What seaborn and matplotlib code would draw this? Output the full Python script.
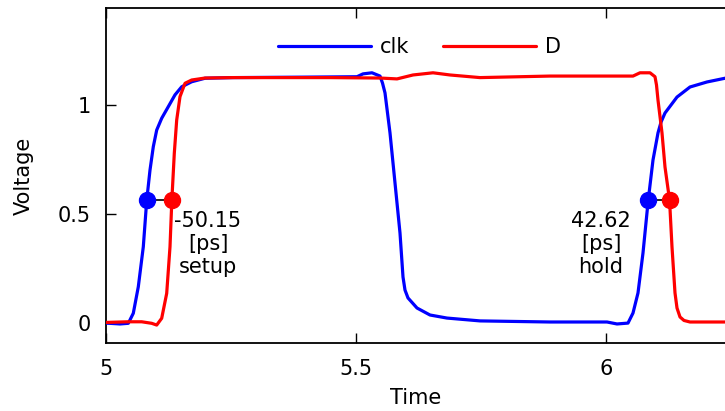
import matplotlib
matplotlib.use("Agg")
import matplotlib.pyplot as plt
import seaborn as sns
import pandas as pd

# ---- data (time in ns, voltage in V) ----
clk_t = [5.000, 5.028, 5.0446, 5.0546, 5.0646, 5.0746, 5.0815, 5.088, 5.0946, 5.1014,
         5.1114, 5.1246, 5.138, 5.1514, 5.1714, 5.198, 5.254, 5.388, 5.502, 5.514,
         5.532, 5.548, 5.553, 5.558, 5.568, 5.578, 5.588, 5.594, 5.598, 5.604, 5.622,
         5.648, 5.682, 5.748, 5.888, 6.002, 6.022, 6.044, 6.054, 6.064, 6.074, 6.0845,
         6.094, 6.104, 6.110, 6.118, 6.142, 6.168, 6.202, 6.240]
clk_v = [0.001, -0.003, 0.000, 0.046, 0.167, 0.350, 0.564, 0.701, 0.808, 0.884,
         0.938, 0.991, 1.045, 1.082, 1.105, 1.121, 1.124, 1.126, 1.128, 1.141,
         1.146, 1.131, 1.099, 1.054, 0.871, 0.642, 0.413, 0.212, 0.152, 0.116, 0.070,
         0.038, 0.024, 0.011, 0.006, 0.006, -0.003, 0.001, 0.047, 0.139, 0.322, 0.564,
         0.747, 0.871, 0.920, 0.962, 1.035, 1.081, 1.104, 1.122]

d_t = [5.000, 5.044, 5.0714, 5.0914, 5.1014, 5.1114, 5.1214, 5.128, 5.1317, 5.1366,
       5.1414, 5.148, 5.158, 5.1714, 5.198, 5.254, 5.448, 5.548, 5.582, 5.614, 5.654,
       5.688, 5.748, 5.888, 6.054, 6.068, 6.088, 6.098, 6.101, 6.104, 6.112, 6.118,
       6.1271, 6.132, 6.138, 6.142, 6.148, 6.156, 6.168, 6.240]
d_v = [0.004, 0.007, 0.007, 0.000, -0.008, 0.023, 0.137, 0.350, 0.564, 0.778,
       0.930, 1.037, 1.098, 1.113, 1.122, 1.124, 1.124, 1.122, 1.118, 1.136, 1.146,
       1.136, 1.124, 1.131, 1.131, 1.146, 1.146, 1.128, 1.090, 1.021, 0.871, 0.715,
       0.564, 0.349, 0.139, 0.070, 0.029, 0.013, 0.006, 0.006]

# measurement markers
setup_x = [5.0815, 5.1317]
hold_x = [6.0845, 6.1271]
mark_v = 0.564
setup_label = "-50.15\n[ps]\nsetup"
hold_label = "42.62\n[ps]\nhold"

x_ticks = [5, 5.5, 6]
x_tick_labels = ["5", "5.5", "6"]
y_ticks = [0, 0.5, 1]
y_tick_labels = ["0", "0.5", "1"]

# ---- style ----
sns.set_theme(style="ticks")
plt.rcParams["font.family"] = ["DejaVu Sans"]
plt.rcParams["font.size"] = 15
plt.rcParams["text.color"] = "black"
plt.rcParams["axes.labelcolor"] = "black"

fig = plt.figure(figsize=(7.25, 4.11), dpi=100)
ax = fig.add_axes([106 / 725, 1 - 342.7 / 411, 1 - 106 / 725, (342.7 - 8.3) / 411])

clk_df = pd.DataFrame({"Time": clk_t, "Voltage": clk_v})
d_df = pd.DataFrame({"Time": d_t, "Voltage": d_v})

sns.lineplot(data=clk_df, x="Time", y="Voltage", ax=ax, color="#0000ff", lw=2.3,
             estimator=None, sort=False, label="clk", zorder=3)
sns.lineplot(data=d_df, x="Time", y="Voltage", ax=ax, color="#ff0000", lw=2.3,
             estimator=None, sort=False, label="D", zorder=3)
for ln in ax.get_lines():
    ln.set_solid_joinstyle("round")

for xs in (setup_x, hold_x):
    ax.plot(xs, [mark_v, mark_v], color="black", lw=1.2, zorder=4)
    ax.plot([xs[0]], [mark_v], "o", color="#0000ff", ms=11.5, zorder=5)
    ax.plot([xs[1]], [mark_v], "o", color="#ff0000", ms=11.5, zorder=5)

ax.text(5.204, 0.363, setup_label, ha="center", va="center", fontsize=15, color="black")
ax.text(5.990, 0.363, hold_label, ha="center", va="center", fontsize=15, color="black")

ax.set_xlim(5.0, 5.0 + 619 / 500)
ax.set_ylim(-0.0887, 1.441)
ax.set_xticks(x_ticks)
ax.set_xticklabels(x_tick_labels)
ax.set_yticks(y_ticks)
ax.set_yticklabels(y_tick_labels)
ax.tick_params(direction="in", top=True, right=False, length=7, width=1,
               labelsize=15, colors="black")
ax.tick_params(axis="x", pad=12)
ax.tick_params(axis="y", pad=11)
ax.spines["right"].set_visible(False)
for s in ("left", "bottom", "top"):
    ax.spines[s].set_linewidth(1.3)
    ax.spines[s].set_color("black")

ax.set_xlabel("Time", fontsize=15, labelpad=6, color="black")
ax.set_ylabel("Voltage", fontsize=15, labelpad=17, color="black")

leg = ax.legend(loc="center", bbox_to_anchor=(419.5 / 725, 1 - 47.3 / 411),
                bbox_transform=fig.transFigure, ncol=2, frameon=False,
                handlelength=4.45, handletextpad=0.45, columnspacing=1.6,
                fontsize=15)
for t in leg.get_texts():
    t.set_color("black")

fig.savefig("out.png", dpi=100)
